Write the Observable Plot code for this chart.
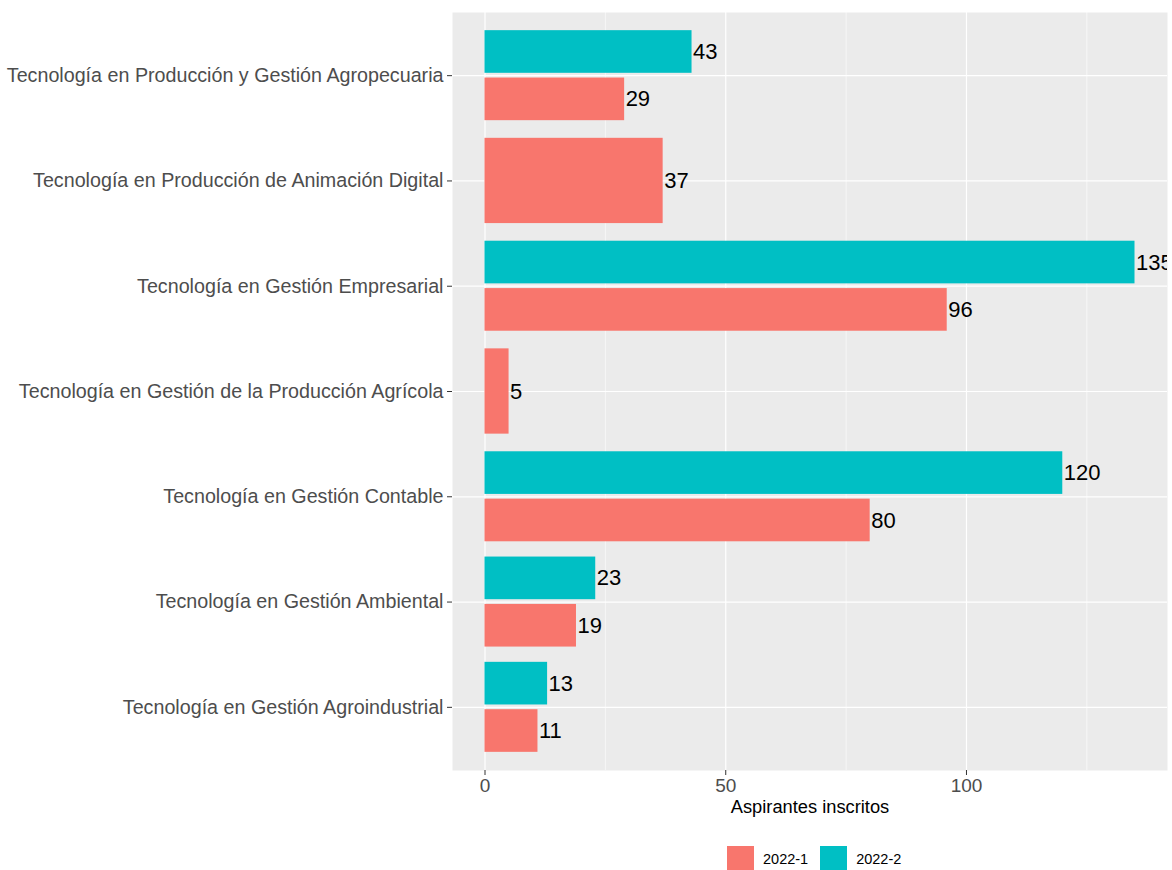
<!DOCTYPE html>
<html>
<head>
<meta charset="utf-8">
<script src="https://cdn.jsdelivr.net/npm/d3@7"></script>
<script src="https://cdn.jsdelivr.net/npm/@observablehq/plot@0.6"></script>
<style>
  html, body { margin: 0; padding: 0; background: white; overflow: hidden; }
  body { width: 1172px; height: 870px; position: relative; font-family: "Liberation Sans", Arial, sans-serif; }
  #title { position: absolute; left: 0; width: 1172px; top: -15px; line-height: 22px; font-size: 21px; font-weight: bold; color: black; white-space: nowrap; padding-left: 420px; box-sizing: border-box; }
  #chart { position: absolute; left: 0; top: 0; }
  #xtitle { position: absolute; left: 452px; width: 716px; top: 796px; text-align: center; font-size: 18.3px; line-height: 22px; color: black; }
  #legend { position: absolute; left: 727px; top: 846px; display: flex; font-size: 14.5px; color: black; }
  .item { display: flex; align-items: center; margin-right: 12px; }
  .key { width: 27px; height: 25px; margin-right: 9px; }
</style>
</head>
<body>
<div id="title">Aspirantes inscritos por periodo en cada programa de tecnología</div>
<div id="chart"></div>
<div id="xtitle">Aspirantes inscritos</div>
<div id="legend"></div>
<script>
// Categories, bottom to top
const categories = [
  "Tecnología en Gestión Agroindustrial",
  "Tecnología en Gestión Ambiental",
  "Tecnología en Gestión Contable",
  "Tecnología en Gestión de la Producción Agrícola",
  "Tecnología en Gestión Empresarial",
  "Tecnología en Producción de Animación Digital",
  "Tecnología en Producción y Gestión Agropecuaria"
];
const periods = ["2022-1", "2022-2"];
const values2022_1 = [11, 19, 80, 5, 96, 37, 29];
const values2022_2 = [13, 23, 120, null, 135, null, 43];
const xTicks = [0, 50, 100];
const xMinor = [25, 75, 125];
const colors = ["#F8766D", "#00BFC4"];

// Build dodged rows (ggplot position_dodge2 style, width 0.9, padding 0.1)
const series = [values2022_1, values2022_2];
const rows = [];
categories.forEach((cat, i) => {
  const pos = i + 1;
  const present = periods.map((p, k) => ({p, v: series[k][i]})).filter(d => d.v != null);
  const n = present.length;
  const slot = 0.9 / n;
  present.forEach((d, k) => {
    const c = pos - 0.45 + (k + 0.5) * slot;
    const half = slot * 0.9 / 2;
    rows.push({category: cat, period: d.p, value: d.v, y1: c - half, y2: c + half, yc: c});
  });
});
const yPositions = categories.map((c, i) => i + 1);

const chart = Plot.plot({
  width: 1172,
  height: 830,
  marginLeft: 452,
  marginRight: 5,
  marginTop: 12,
  marginBottom: 60,
  x: {domain: [-6.75, 141.75]},
  y: {domain: [0.4, 7.6]},
  color: {domain: periods, range: colors},
  style: {fontFamily: "Liberation Sans, Arial, sans-serif", background: "white"},
  marks: [
    Plot.frame({fill: "#EBEBEB", stroke: null}),
    Plot.ruleX(xMinor, {stroke: "white", strokeWidth: 0.6}),
    Plot.ruleX(xTicks, {stroke: "white", strokeWidth: 1.2}),
    Plot.ruleY(yPositions, {stroke: "white", strokeWidth: 1.2}),
    Plot.rect(rows, {x1: d => 0, x2: "value", y1: "y1", y2: "y2", fill: "period"}),
    Plot.text(rows, {x: "value", y: "yc", text: d => String(d.value), textAnchor: "start", dx: 1, fontSize: 22, fill: "black", clip: true}),
    Plot.axisX({ticks: xTicks, tickSize: 5, tickPadding: 3, fontSize: 19, fill: "#4D4D4D", stroke: "#333333", label: null}),
    Plot.axisY({ticks: yPositions, tickFormat: d => categories[d - 1], tickSize: 5, tickPadding: 4, fontSize: 19.7, fill: "#4D4D4D", stroke: "#333333", label: null})
  ]
});
document.getElementById("chart").appendChild(chart);

const legend = document.getElementById("legend");
periods.forEach((p, k) => {
  const item = document.createElement("div");
  item.className = "item";
  const key = document.createElement("div");
  key.className = "key";
  key.style.background = colors[k];
  const lab = document.createElement("span");
  lab.textContent = p;
  item.appendChild(key);
  item.appendChild(lab);
  legend.appendChild(item);
});
</script>
</body>
</html>
